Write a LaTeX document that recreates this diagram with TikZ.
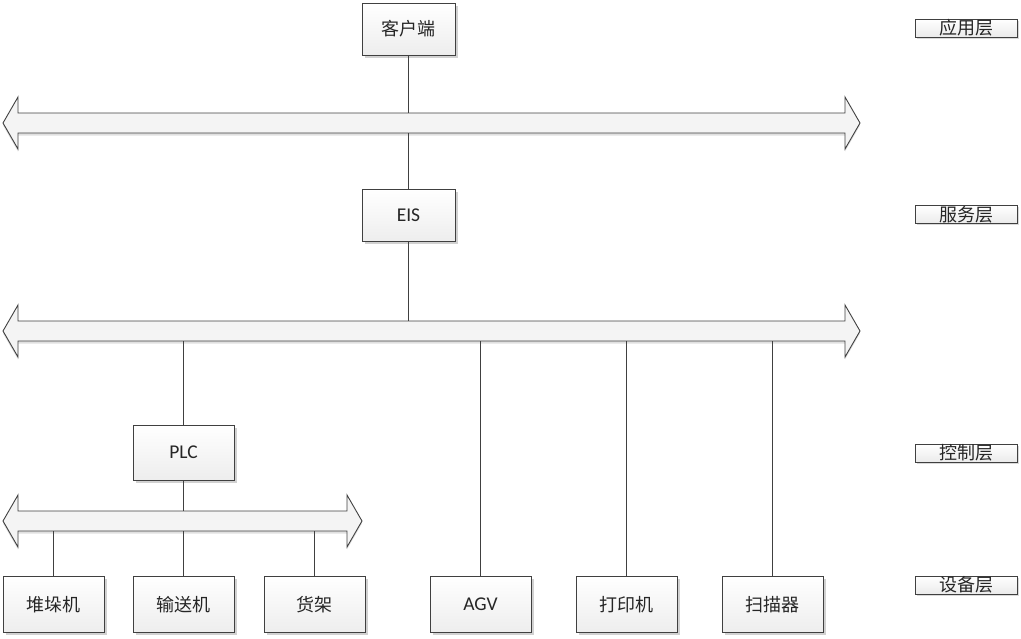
\documentclass[tikz,border=0pt]{standalone}
\usepackage{fontspec}
\setmainfont{Carlito}
\newfontfamily\cjk{Noto Sans CJK SC}
\usetikzlibrary{shadows}
\definecolor{boxline}{HTML}{404040}
\definecolor{txt}{HTML}{262626}
\definecolor{busfill}{HTML}{F4F4F4}
\newcommand\busarrow[3]{% #1 = y, #2 = x left, #3 = x right
  \draw[bus] (#2,#1) -- (#2+15,#1-26) -- (#2+15,#1-10) -- (#3-15,#1-10) -- (#3-15,#1-26)
    -- (#3,#1) -- (#3-15,#1+26) -- (#3-15,#1+10) -- (#2+15,#1+10) -- (#2+15,#1+26) -- cycle;}
\begin{document}
\begin{tikzpicture}[x=1pt,y=-1pt,
  box/.style={draw=boxline, line width=1pt, top color=white, bottom color=black!7,
    inner sep=0pt, font=\fontsize{19.5}{22}\selectfont, text=txt,
    drop shadow={shadow xshift=2.5pt, shadow yshift=-2.5pt, fill=black!18, opacity=1}},
  topbox/.style={box, minimum width=93pt, minimum height=52pt},
  devbox/.style={box, minimum width=101pt, minimum height=56pt},
  cj/.style={font=\cjk\fontsize{18}{22}\selectfont},
  layer/.style={draw=boxline, line width=0.8pt, top color=white, bottom color=black!8,
    inner sep=0pt, minimum width=102pt, minimum height=18pt, text=txt,
    font=\cjk\fontsize{18}{18}\selectfont,
    drop shadow={shadow xshift=1.5pt, shadow yshift=-1.5pt, fill=black!15, opacity=1}},
  bus/.style={draw=boxline, line width=0.9pt, fill=busfill, line join=miter,
    drop shadow={shadow xshift=0pt, shadow yshift=-2.5pt, fill=black!12, opacity=1}},
  link/.style={draw=boxline, line width=1.1pt}]
\useasboundingbox (0,0) rectangle (1021,638);

% buses
\busarrow{123}{3}{860}
\busarrow{331}{3}{860}
\busarrow{521}{3}{362}

% bus connection points
\coordinate (b1t) at (408.5,113);
\coordinate (b1b) at (408.5,133);
\coordinate (b2t) at (408.5,321);
\coordinate (b2plc) at (183.5,341);
\coordinate (b2agv) at (480.5,341);
\coordinate (b2prn) at (626.5,341);
\coordinate (b2scn) at (772.5,341);
\coordinate (b3t) at (183.5,511);
\coordinate (b3a) at (53.5,531);
\coordinate (b3b) at (183.5,531);
\coordinate (b3c) at (314.5,531);

% nodes
\node[topbox, cj] (client) at (408.5,29) {客户端};
\node[topbox] (eis) at (408.5,215.5) {EIS};
\node[box, minimum width=101pt, minimum height=55pt] (plc) at (183.5,452.5) {PLC};
\node[devbox, cj] (stack) at (53.5,604.5) {堆垛机};
\node[devbox, cj] (conv) at (183.5,604.5) {输送机};
\node[devbox, cj] (shelf) at (314.5,604.5) {货架};
\node[devbox] (agv) at (480.5,604.5) {AGV};
\node[devbox, cj] (printer) at (626.5,604.5) {打印机};
\node[devbox, cj] (scanner) at (772.5,604.5) {扫描器};

% layer labels
\node[layer] (l1) at (966,28) {应用层};
\node[layer] (l2) at (966,214.5) {服务层};
\node[layer] (l3) at (966,453) {控制层};
\node[layer] (l4) at (966,585) {设备层};

% connectors
\draw[link] (client.south) -- (b1t);
\draw[link] (b1b) -- (eis.north);
\draw[link] (eis.south) -- (b2t);
\draw[link] (b2plc) -- (plc.north);
\draw[link] (b2agv) -- (agv.north);
\draw[link] (b2prn) -- (printer.north);
\draw[link] (b2scn) -- (scanner.north);
\draw[link] (plc.south) -- (b3t);
\draw[link] (b3a) -- (stack.north);
\draw[link] (b3b) -- (conv.north);
\draw[link] (b3c) -- (shelf.north);
\end{tikzpicture}
\end{document}
